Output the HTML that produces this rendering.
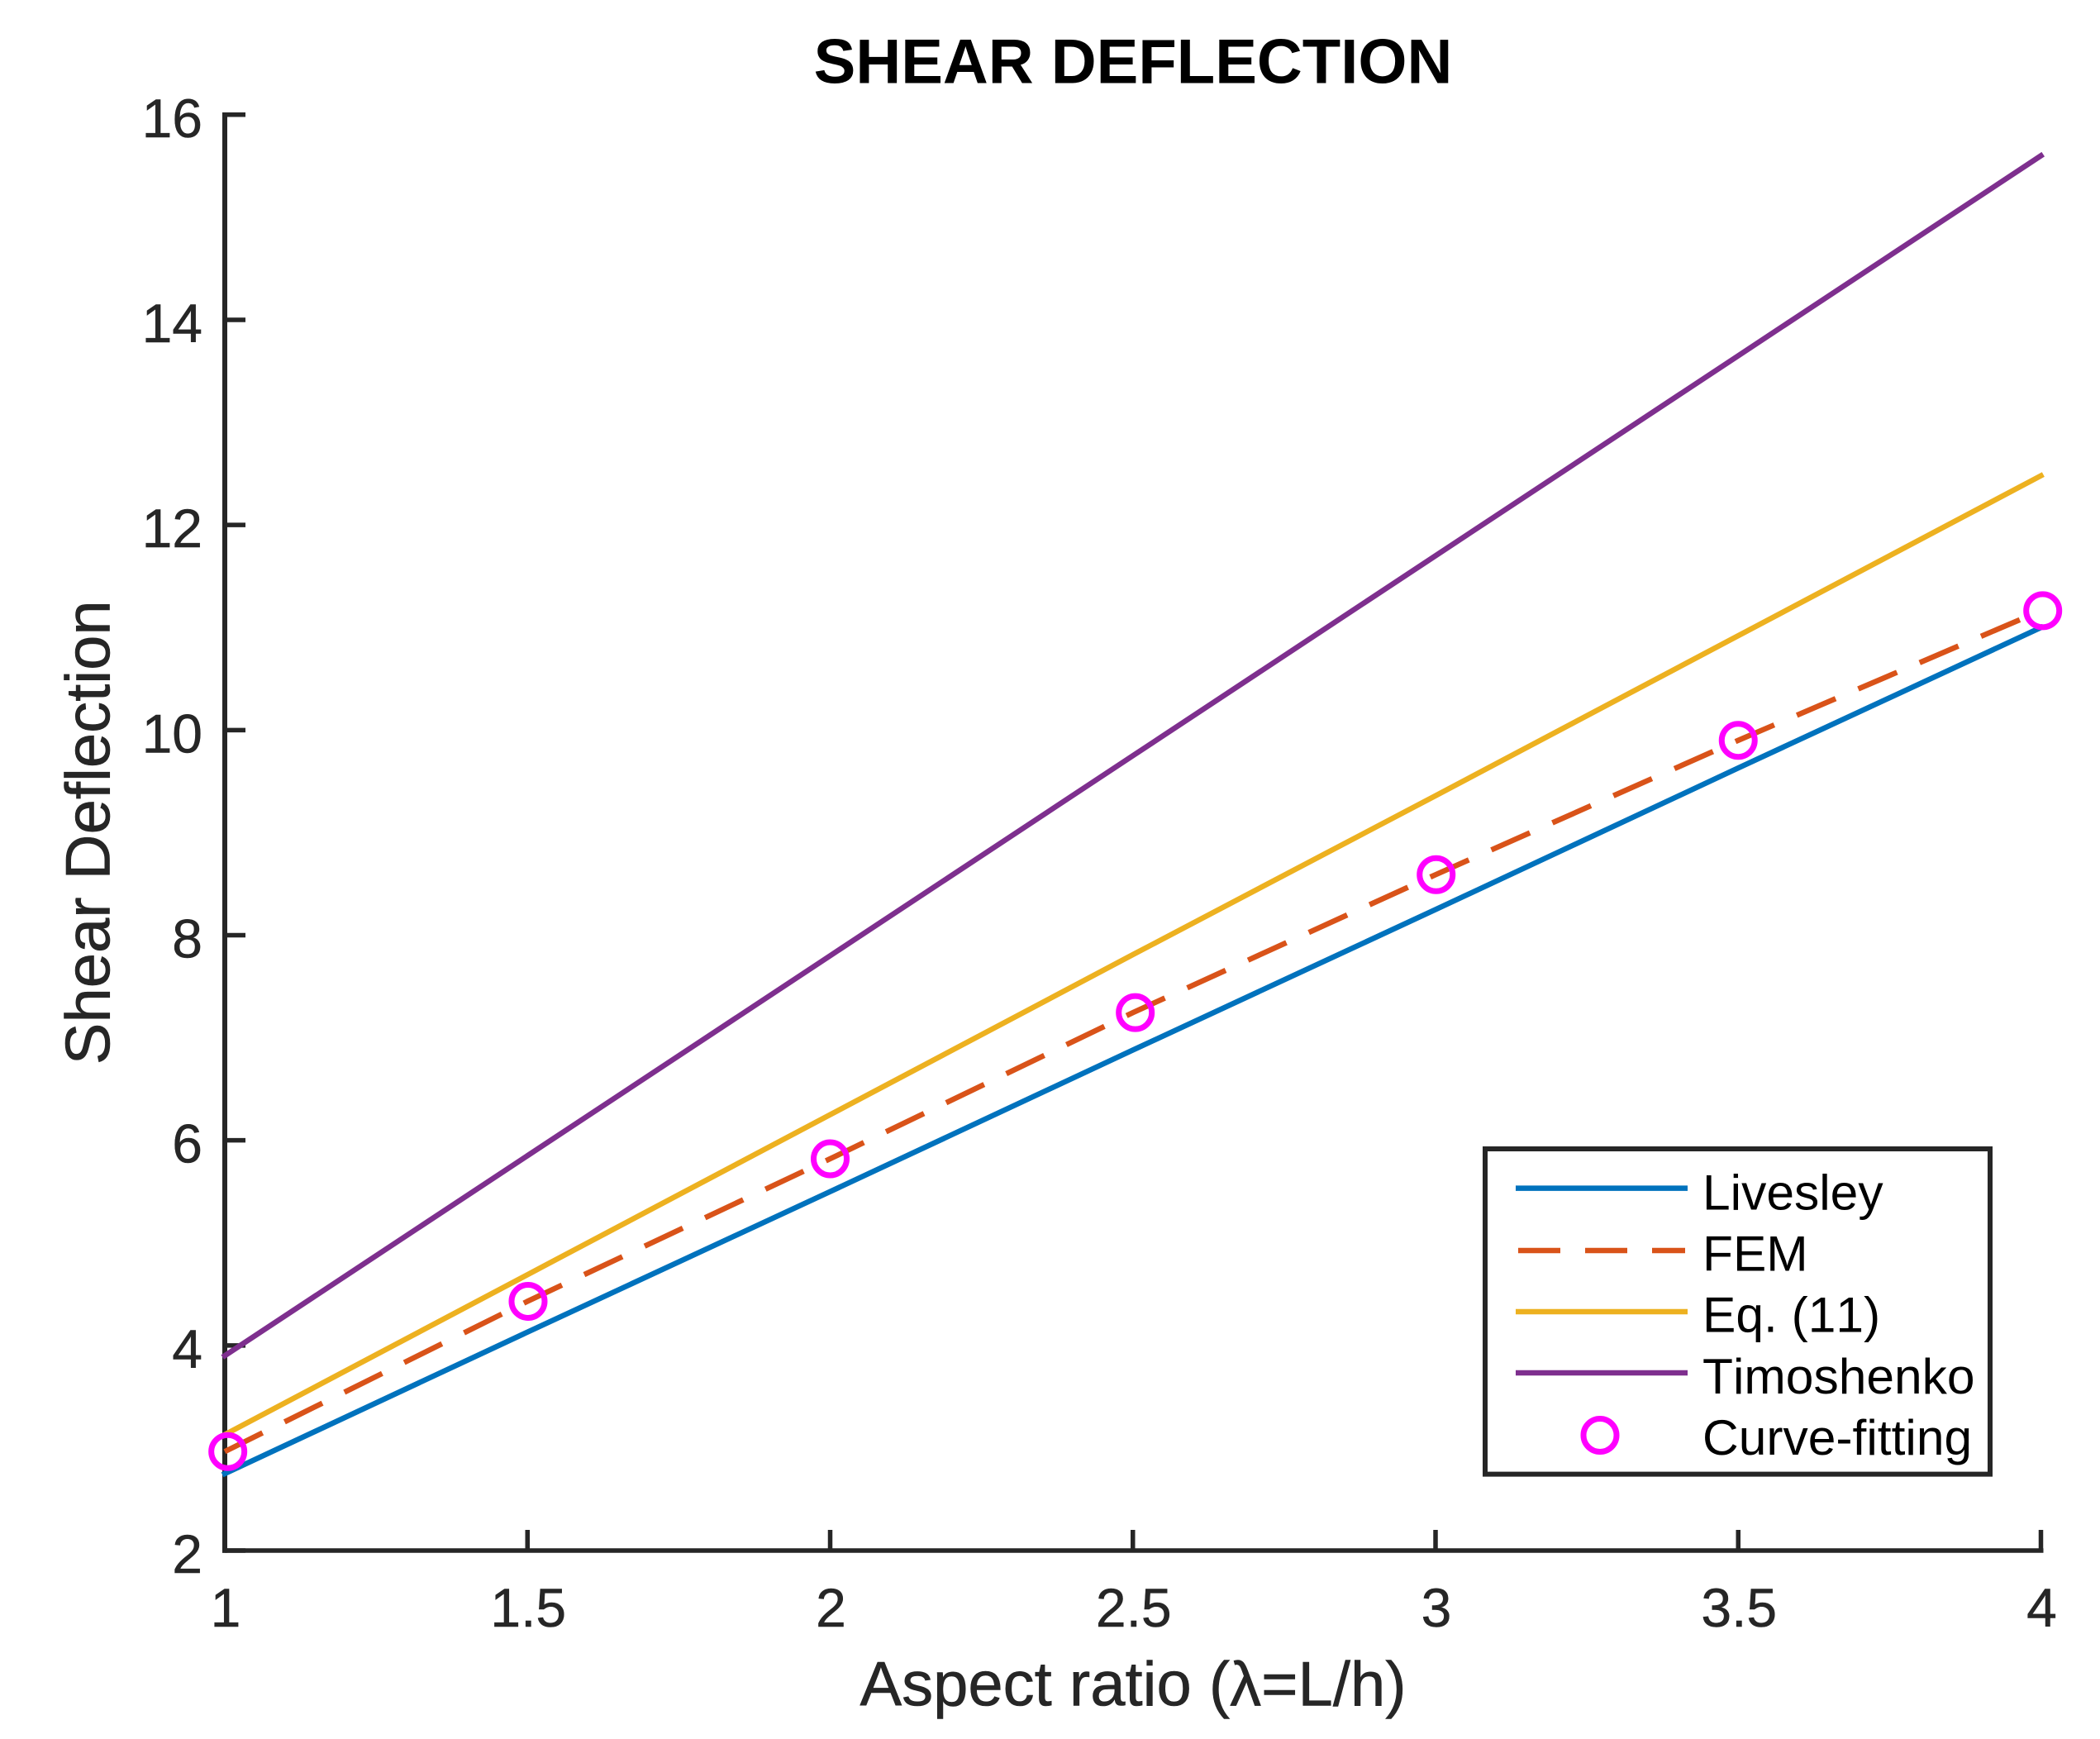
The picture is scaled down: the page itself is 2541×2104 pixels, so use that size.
<!DOCTYPE html>
<html lang="en">
<head>
<meta charset="utf-8">
<title>Shear Deflection</title>
<style>
html,body{margin:0;padding:0;background:#fff;}
body{width:2541px;height:2104px;overflow:hidden;}
svg{display:block;}
text{font-family:"Liberation Sans",sans-serif;font-kerning:none;}
</style>
</head>
<body>
<svg id="chart" xmlns="http://www.w3.org/2000/svg" width="2541" height="2104" viewBox="0 0 2541 2104">
  <rect x="0" y="0" width="2541" height="2104" fill="#ffffff"/>
  <text x="1371" y="100.7" font-size="76" font-weight="bold" text-anchor="middle" fill="#000000">SHEAR DEFLECTION</text>
  <text x="1371" y="2063.3" font-size="76" text-anchor="middle" fill="#262626" stroke="#262626" stroke-width="0.6">Aspect ratio (λ=L/h)</text>
  <text x="0" y="0" transform="translate(132.7 1007.3) rotate(-90)" font-size="76" text-anchor="middle" fill="#262626" stroke="#262626" stroke-width="0.6">Shear Deflection</text>
  <g id="axes"></g>
  <g id="series"></g>
  <g id="legend">
    <rect x="1797" y="1390" width="611" height="393.6" fill="#ffffff" stroke="#262626" stroke-width="6"/>
    <line x1="1834" x2="2042" y1="1437.6" y2="1437.6" stroke="#0072BD" stroke-width="6.5"/>
    <text x="2060" y="1463.3" font-size="60.5" fill="#000000">Livesley</text>
    <line x1="1837" x2="2039" y1="1513" y2="1513" stroke="#D95319" stroke-width="6.5" stroke-dasharray="51 30"/>
    <text x="2060" y="1537.5" font-size="60.5" fill="#000000">FEM</text>
    <line x1="1834" x2="2042" y1="1587" y2="1587" stroke="#EDB120" stroke-width="6.5"/>
    <text x="2060" y="1611.4" font-size="60.5" fill="#000000">Eq. (11)</text>
    <line x1="1834" x2="2042" y1="1661" y2="1661" stroke="#7E2F8E" stroke-width="6.5"/>
    <text x="2060" y="1686" font-size="60.5" fill="#000000">Timoshenko</text>
    <circle cx="1936" cy="1736.5" r="20" fill="none" stroke="#FF00FF" stroke-width="7"/>
    <text x="2060" y="1760" font-size="60.5" fill="#000000">Curve-fitting</text>
  </g>
</svg>
<script>
const xTicks = [1, 1.5, 2, 2.5, 3, 3.5, 4];
const xTickLabels = ["1", "1.5", "2", "2.5", "3", "3.5", "4"];
const yTicks = [2, 4, 6, 8, 10, 12, 14, 16];
const yTickLabels = ["2", "4", "6", "8", "10", "12", "14", "16"];

const lineX = [1, 1.5, 2, 2.5, 3, 3.5, 4];
const livesley = [2.75, 4.13, 5.5, 6.88, 8.25, 9.63, 11.0];
const fem = [2.965, 4.43, 5.82, 7.245, 8.59, 9.9, 11.164];
const eq11 = [3.13, 4.69, 6.25, 7.81, 9.36, 10.92, 12.48];
const timoshenko = [3.9, 5.85, 7.8, 9.75, 11.7, 13.65, 15.6];
const curveFitX = [1.005, 1.501, 2, 2.504, 3.001, 3.5, 4.003];
const curveFitY = [2.965, 4.43, 5.82, 7.245, 8.59, 9.9, 11.164];

const NS = "http://www.w3.org/2000/svg";
const plot = { left: 272, right: 2469.5, top: 138.8, bottom: 1876 };
const xMin = 1, xMax = 4, yMin = 2, yMax = 16;
const axisColor = "#262626";

function xScale(v) { return plot.left + (v - xMin) / (xMax - xMin) * (plot.right - plot.left); }
function yScale(v) { return plot.bottom - (v - yMin) / (yMax - yMin) * (plot.bottom - plot.top); }

function make(tag, attrs) {
  const el = document.createElementNS(NS, tag);
  for (const k in attrs) el.setAttribute(k, attrs[k]);
  return el;
}

const axes = document.getElementById("axes");
const seriesGroup = document.getElementById("series");

const yAxisLine = make("line", { x1: plot.left, x2: plot.left, y1: plot.top - 2.8, y2: plot.bottom + 2.8, stroke: axisColor, "stroke-width": 6 });


axes.appendChild(yAxisLine);

const xAxisLine = make("line", { x1: plot.left - 3, x2: plot.right + 3, y1: plot.bottom, y2: plot.bottom, stroke: axisColor, "stroke-width": 5.5 });


axes.appendChild(xAxisLine);

xTicks.forEach(function (t, i) {
  const x = xScale(t);
  const tick = make("line", { x1: x, x2: x, y1: plot.bottom, y2: plot.bottom - 25, stroke: axisColor, "stroke-width": 5.5 });
  
  
  axes.appendChild(tick);
  const label = make("text", { x: x + 1, y: 1968, "font-size": 66, "text-anchor": "middle", fill: axisColor, stroke: axisColor, "stroke-width": 0.5 });
  
  
  label.textContent = xTickLabels[i];
  axes.appendChild(label);
});

yTicks.forEach(function (t, i) {
  const y = yScale(t);
  const tick = make("line", { x1: plot.left, x2: plot.left + 25, y1: y, y2: y, stroke: axisColor, "stroke-width": 5.5 });
  
  
  axes.appendChild(tick);
  const label = make("text", { x: 245, y: y + 27, "font-size": 66, "text-anchor": "end", fill: axisColor, stroke: axisColor, "stroke-width": 0.5 });
  
  
  label.textContent = yTickLabels[i];
  axes.appendChild(label);
});

function pointsFor(xs, ys) {
  return xs.map(function (x, i) { return xScale(x).toFixed(2) + "," + yScale(ys[i]).toFixed(2); }).join(" ");
}

const livesleyLine = make("polyline", { points: pointsFor(lineX, livesley), fill: "none", stroke: "#0072BD", "stroke-width": 6.5, "stroke-linecap": "square" });


seriesGroup.appendChild(livesleyLine);

const femLine = make("polyline", { points: pointsFor(lineX, fem), fill: "none", stroke: "#D95319", "stroke-width": 6.5, "stroke-dasharray": "51 29.8" });


seriesGroup.appendChild(femLine);

const eq11Line = make("polyline", { points: pointsFor(lineX, eq11), fill: "none", stroke: "#EDB120", "stroke-width": 6.5, "stroke-linecap": "square" });


seriesGroup.appendChild(eq11Line);

const timoshenkoLine = make("polyline", { points: pointsFor(lineX, timoshenko), fill: "none", stroke: "#7E2F8E", "stroke-width": 6.5, "stroke-linecap": "square" });


seriesGroup.appendChild(timoshenkoLine);

curveFitX.forEach(function (x, i) {
  const marker = make("circle", { cx: xScale(x), cy: yScale(curveFitY[i]), r: 20, fill: "none", stroke: "#FF00FF", "stroke-width": 7 });
  
  
  seriesGroup.appendChild(marker);
});
</script>
</body>
</html>
